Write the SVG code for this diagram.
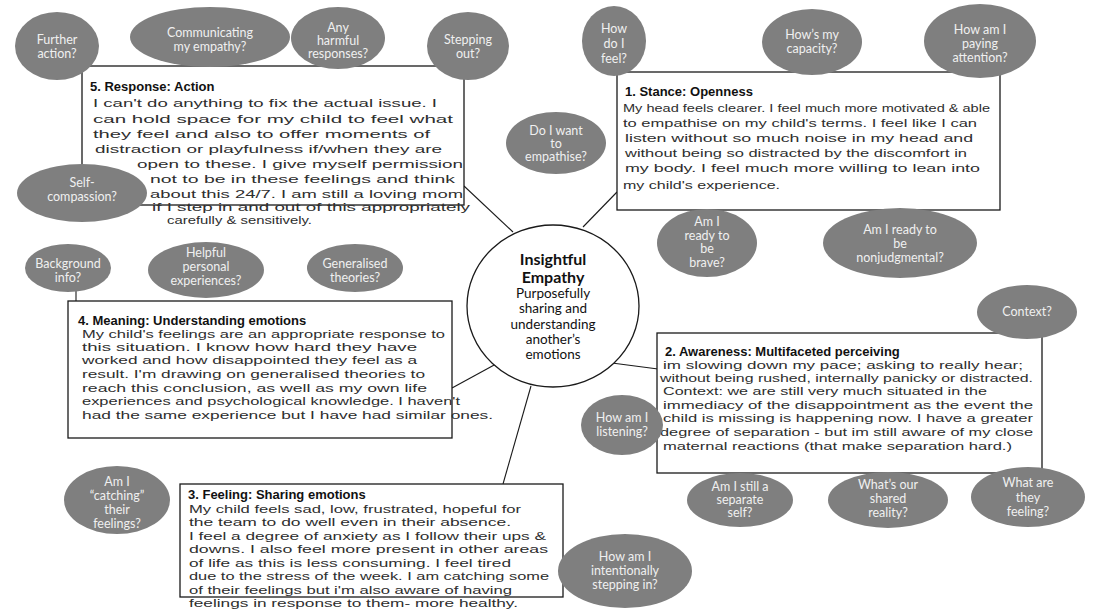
<svg xmlns="http://www.w3.org/2000/svg" width="1095" height="613" viewBox="0 0 1095 613">
<style>
.bub{fill:#7f7f7f}
.bt{font-family:Lato,"Noto Sans",sans-serif;font-size:12.5px;fill:#f0f0f0;text-anchor:middle}
.box{fill:#fff;stroke:#1a1a1a;stroke-width:1.3}
.hd{font-family:"Liberation Sans",Arial,sans-serif;font-weight:bold;font-size:13px;fill:#111}
.hw{font-family:"Liberation Sans",Arial,sans-serif;font-size:11px;fill:#2e2e2e}
.conn line{stroke:#1a1a1a;stroke-width:1.1}
.ct{font-family:Lato,"Noto Sans",sans-serif;fill:#111;text-anchor:middle}
</style>
<rect width="1095" height="613" fill="#fff"/>
<g id="connectors" class="conn">
<line x1="464" y1="186" x2="513" y2="232"/>
<line x1="617" y1="192" x2="583" y2="227"/>
<line x1="612" y1="363" x2="658" y2="369"/>
<line x1="452" y1="388" x2="496" y2="364"/>
<line x1="531" y1="386" x2="503" y2="484"/>
<line x1="76" y1="290" x2="76" y2="301"/>
</g>
<g id="center">
<ellipse cx="553" cy="306" rx="86" ry="81" fill="#fff" stroke="#1a1a1a" stroke-width="1.3"/>
<text class="ct" x="553" y="265" font-size="16" font-weight="bold">Insightful</text>
<text class="ct" x="553" y="283" font-size="16" font-weight="bold">Empathy</text>
<text class="ct" x="553" y="298" font-size="13.5">Purposefully</text>
<text class="ct" x="553" y="313" font-size="13.5">sharing and</text>
<text class="ct" x="553" y="329" font-size="13.5">understanding</text>
<text class="ct" x="553" y="344" font-size="13.5">another’s</text>
<text class="ct" x="553" y="359" font-size="13.5">emotions</text>
</g>
<g id="box5">
<rect class="box" x="82" y="66" width="382" height="139"/>
<text class="hd" x="90" y="91">5. Response: Action</text>
<text class="hw" x="93" y="107" textLength="344" lengthAdjust="spacingAndGlyphs">I can't do anything to fix the actual issue. I</text>
<text class="hw" x="93" y="123" textLength="360" lengthAdjust="spacingAndGlyphs">can hold space for my child to feel what</text>
<text class="hw" x="93" y="138" textLength="337" lengthAdjust="spacingAndGlyphs">they feel and also to offer moments of</text>
<text class="hw" x="95" y="153" textLength="347" lengthAdjust="spacingAndGlyphs">distraction or playfulness if/when they are</text>
<text class="hw" x="137" y="168" textLength="326" lengthAdjust="spacingAndGlyphs">open to these. I give myself permission</text>
<text class="hw" x="150" y="183" textLength="305" lengthAdjust="spacingAndGlyphs">not to be in these feelings and think</text>
<text class="hw" x="150" y="198" textLength="313" lengthAdjust="spacingAndGlyphs">about this 24/7. I am still a loving mom</text>
<text class="hw" x="152" y="211" textLength="318" lengthAdjust="spacingAndGlyphs">if I step in and out of this appropriately</text>
<text class="hw" x="167" y="224" textLength="145" lengthAdjust="spacingAndGlyphs">carefully &amp; sensitively.</text>
</g>
<g id="box1">
<rect class="box" x="617" y="72" width="383" height="138"/>
<text class="hd" x="625" y="96">1. Stance: Openness</text>
<text class="hw" x="623" y="112" textLength="367" lengthAdjust="spacingAndGlyphs">My head feels clearer. I feel much more motivated &amp; able</text>
<text class="hw" x="623" y="127" textLength="354" lengthAdjust="spacingAndGlyphs">to empathise on my child's terms. I feel like I can</text>
<text class="hw" x="625" y="142" textLength="348" lengthAdjust="spacingAndGlyphs">listen without so much noise in my head and</text>
<text class="hw" x="625" y="157" textLength="342" lengthAdjust="spacingAndGlyphs">without being so distracted by the discomfort in</text>
<text class="hw" x="625" y="172" textLength="355" lengthAdjust="spacingAndGlyphs">my body. I feel much more willing to lean into</text>
<text class="hw" x="623" y="189" textLength="157" lengthAdjust="spacingAndGlyphs">my child's experience.</text>
</g>
<g id="box4">
<rect class="box" x="68" y="301" width="384" height="137"/>
<text class="hd" x="78" y="325">4. Meaning: Understanding emotions</text>
<text class="hw" x="82" y="338" textLength="363" lengthAdjust="spacingAndGlyphs">My child's feelings are an appropriate response to</text>
<text class="hw" x="82" y="351" textLength="335" lengthAdjust="spacingAndGlyphs">this situation. I know how hard they have</text>
<text class="hw" x="82" y="364" textLength="335" lengthAdjust="spacingAndGlyphs">worked and how disappointed they feel as a</text>
<text class="hw" x="82" y="378" textLength="343" lengthAdjust="spacingAndGlyphs">result. I'm drawing on generalised theories to</text>
<text class="hw" x="82" y="392" textLength="345" lengthAdjust="spacingAndGlyphs">reach this conclusion, as well as my own life</text>
<text class="hw" x="82" y="405" textLength="378" lengthAdjust="spacingAndGlyphs">experiences and psychological knowledge. I haven't</text>
<text class="hw" x="82" y="419" textLength="411" lengthAdjust="spacingAndGlyphs">had the same experience but I have had similar ones.</text>
</g>
<g id="box2">
<rect class="box" x="657" y="333" width="385" height="140"/>
<text class="hd" x="665" y="356">2. Awareness: Multifaceted perceiving</text>
<text class="hw" x="663" y="369" textLength="360" lengthAdjust="spacingAndGlyphs">im slowing down my pace; asking to really hear;</text>
<text class="hw" x="660" y="382" textLength="373" lengthAdjust="spacingAndGlyphs">without being rushed, internally panicky or distracted.</text>
<text class="hw" x="663" y="395" textLength="324" lengthAdjust="spacingAndGlyphs">Context: we are still very much situated in the</text>
<text class="hw" x="663" y="409" textLength="370" lengthAdjust="spacingAndGlyphs">immediacy of the disappointment as the event the</text>
<text class="hw" x="663" y="422" textLength="370" lengthAdjust="spacingAndGlyphs">child is missing is happening now. I have a greater</text>
<text class="hw" x="660" y="436" textLength="373" lengthAdjust="spacingAndGlyphs">degree of separation - but im still aware of my close</text>
<text class="hw" x="663" y="450" textLength="349" lengthAdjust="spacingAndGlyphs">maternal reactions (that make separation hard.)</text>
</g>
<g id="box3">
<rect class="box" x="180" y="484" width="383" height="113"/>
<text class="hd" x="188" y="499">3. Feeling: Sharing emotions</text>
<text class="hw" x="189" y="513" textLength="332" lengthAdjust="spacingAndGlyphs">My child feels sad, low, frustrated, hopeful for</text>
<text class="hw" x="189" y="526" textLength="322" lengthAdjust="spacingAndGlyphs">the team to do well even in their absence.</text>
<text class="hw" x="189" y="540" textLength="357" lengthAdjust="spacingAndGlyphs">I feel a degree of anxiety as I follow their ups &amp;</text>
<text class="hw" x="189" y="553" textLength="359" lengthAdjust="spacingAndGlyphs">downs. I also feel more present in other areas</text>
<text class="hw" x="189" y="567" textLength="322" lengthAdjust="spacingAndGlyphs">of life as this is less consuming. I feel tired</text>
<text class="hw" x="189" y="580" textLength="360" lengthAdjust="spacingAndGlyphs">due to the stress of the week. I am catching some</text>
<text class="hw" x="189" y="594" textLength="323" lengthAdjust="spacingAndGlyphs">of their feelings but i'm also aware of having</text>
<text class="hw" x="189" y="607" textLength="329" lengthAdjust="spacingAndGlyphs">feelings in response to them- more healthy.</text>
</g>
<g id="q-further-action"><ellipse class="bub" cx="57" cy="46" rx="42" ry="34"/><text class="bt" x="57" y="44">Further</text><text class="bt" x="57" y="58">action?</text></g>
<g id="q-communicating"><ellipse class="bub" cx="210" cy="37" rx="80" ry="30"/><text class="bt" x="210" y="37">Communicating</text><text class="bt" x="210" y="51">my empathy?</text></g>
<g id="q-harmful"><ellipse class="bub" cx="338" cy="38" rx="47" ry="31"/><text class="bt" x="338" y="32">Any</text><text class="bt" x="338" y="45">harmful</text><text class="bt" x="338" y="58">responses?</text></g>
<g id="q-stepping-out"><ellipse class="bub" cx="468" cy="46" rx="41" ry="34"/><text class="bt" x="468" y="44">Stepping</text><text class="bt" x="468" y="58">out?</text></g>
<g id="q-how-feel"><ellipse class="bub" cx="614" cy="41" rx="32" ry="35"/><text class="bt" x="614" y="33">How</text><text class="bt" x="614" y="48">do I</text><text class="bt" x="614" y="63">feel?</text></g>
<g id="q-capacity"><ellipse class="bub" cx="812" cy="42" rx="50" ry="33"/><text class="bt" x="812" y="39">How’s my</text><text class="bt" x="812" y="53">capacity?</text></g>
<g id="q-attention"><ellipse class="bub" cx="980" cy="41" rx="56" ry="37"/><text class="bt" x="980" y="34">How am I</text><text class="bt" x="980" y="48">paying</text><text class="bt" x="980" y="62">attention?</text></g>
<g id="q-want-empathise"><ellipse class="bub" cx="556" cy="143" rx="50" ry="31"/><text class="bt" x="556" y="135">Do I want</text><text class="bt" x="556" y="148">to</text><text class="bt" x="556" y="161">empathise?</text></g>
<g id="q-brave"><ellipse class="bub" cx="707" cy="243" rx="50" ry="34"/><text class="bt" x="707" y="226">Am I</text><text class="bt" x="707" y="240">ready to</text><text class="bt" x="707" y="253">be</text><text class="bt" x="707" y="267">brave?</text></g>
<g id="q-nonjudgmental"><ellipse class="bub" cx="900" cy="243" rx="77" ry="35"/><text class="bt" x="900" y="234">Am I ready to</text><text class="bt" x="900" y="248">be</text><text class="bt" x="900" y="262">nonjudgmental?</text></g>
<g id="q-self-compassion"><ellipse class="bub" cx="82" cy="193" rx="65" ry="29"/><text class="bt" x="82" y="187">Self-</text><text class="bt" x="82" y="201">compassion?</text></g>
<g id="q-background"><ellipse class="bub" cx="68" cy="268" rx="43" ry="24"/><text class="bt" x="68" y="268">Background</text><text class="bt" x="68" y="282">info?</text></g>
<g id="q-helpful"><ellipse class="bub" cx="206" cy="270" rx="58" ry="28"/><text class="bt" x="206" y="257">Helpful</text><text class="bt" x="206" y="271">personal</text><text class="bt" x="206" y="285">experiences?</text></g>
<g id="q-generalised"><ellipse class="bub" cx="355" cy="268" rx="48" ry="24"/><text class="bt" x="355" y="268">Generalised</text><text class="bt" x="355" y="282">theories?</text></g>
<g id="q-context"><ellipse class="bub" cx="1027" cy="312" rx="50" ry="27"/><text class="bt" x="1027" y="316">Context?</text></g>
<g id="q-listening"><ellipse class="bub" cx="622" cy="425" rx="41" ry="30"/><text class="bt" x="622" y="422">How am I</text><text class="bt" x="622" y="436">listening?</text></g>
<g id="q-separate"><ellipse class="bub" cx="740" cy="500" rx="53" ry="27"/><text class="bt" x="740" y="491">Am I still a</text><text class="bt" x="740" y="504">separate</text><text class="bt" x="740" y="517">self?</text></g>
<g id="q-shared"><ellipse class="bub" cx="888" cy="500" rx="60" ry="28"/><text class="bt" x="888" y="489">What’s our</text><text class="bt" x="888" y="503">shared</text><text class="bt" x="888" y="517">reality?</text></g>
<g id="q-they-feeling"><ellipse class="bub" cx="1028" cy="497" rx="57" ry="30"/><text class="bt" x="1028" y="487">What are</text><text class="bt" x="1028" y="502">they</text><text class="bt" x="1028" y="516">feeling?</text></g>
<g id="q-catching"><ellipse class="bub" cx="117" cy="500" rx="53" ry="34"/><text class="bt" x="117" y="486">Am I</text><text class="bt" x="117" y="500">“catching”</text><text class="bt" x="117" y="514">their</text><text class="bt" x="117" y="528">feelings?</text></g>
<g id="q-stepping-in"><ellipse class="bub" cx="625" cy="571" rx="67" ry="37"/><text class="bt" x="625" y="561">How am I</text><text class="bt" x="625" y="575">intentionally</text><text class="bt" x="625" y="589">stepping in?</text></g>
</svg>
